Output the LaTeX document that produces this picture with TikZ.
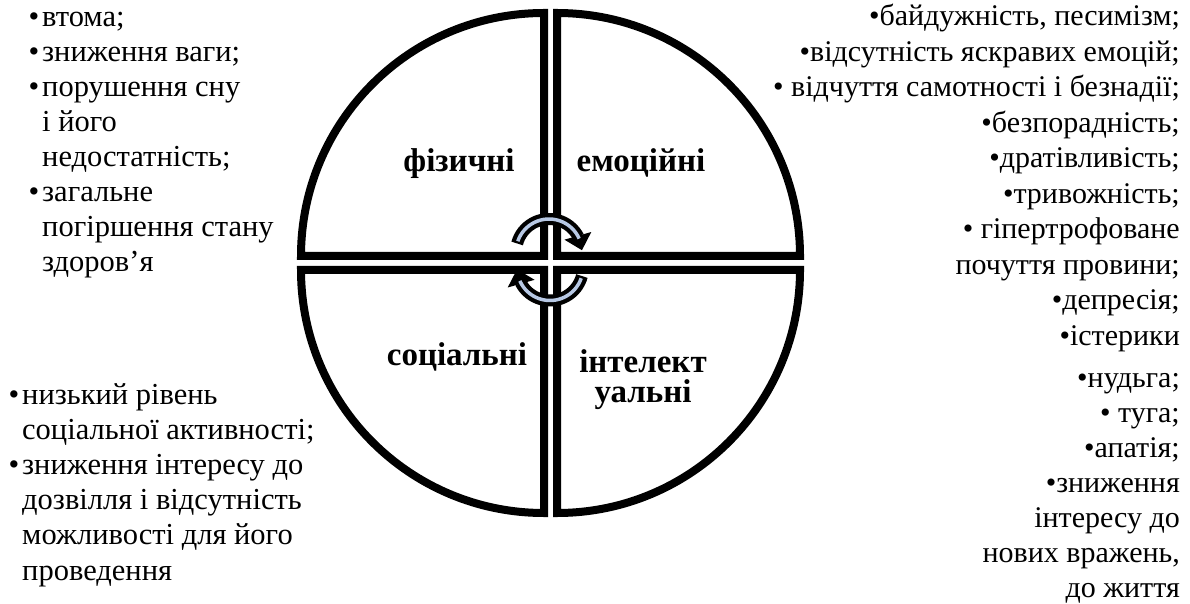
\documentclass[tikz,border=0pt]{standalone}
\usepackage{fontspec}
\setmainfont{Liberation Serif}
\usetikzlibrary{arrows.meta, bending}

\definecolor{ringblue}{RGB}{183,200,228}
\newcommand{\bul}{\llap{•\hspace{3pt}}}

\begin{document}
\begin{tikzpicture}[x=1pt, y=1pt,
    quarter/.style={draw, line width=8pt, fill=white, line join=miter},
    sector/.style={font=\fontsize{33}{30}\selectfont\bfseries, align=center, inner sep=0pt},
    symptoms/.style={font=\fontsize{30.5}{35.1}\selectfont, inner sep=0pt},
    turn/.style={line width=12pt, -{Triangle[length=15pt, width=27pt]}},
    turnfill/.style={ringblue, line width=3.5pt}]
  \useasboundingbox (0,0) rectangle (1190,603);

  % four quarters of the disc
  \coordinate (ctl) at (544,347);
  \coordinate (ctr) at (557,347);
  \coordinate (cbl) at (544,333);
  \coordinate (cbr) at (557,333);
  \draw[quarter] (ctl) -- ++(-243,0) arc[start angle=180, end angle=90, radius=243] -- cycle;
  \draw[quarter] (ctr) -- ++(0,243) arc[start angle=90, end angle=0, radius=243] -- cycle;
  \draw[quarter] (cbr) -- ++(243,0) arc[start angle=0, end angle=-90, radius=243] -- cycle;
  \draw[quarter] (cbl) -- ++(0,-243) arc[start angle=270, end angle=180, radius=243] -- cycle;

  \node[sector, anchor=base] (phys) at (459,431) {фізичні};
  \node[sector, anchor=base] (emot) at (641,431) {емоційні};
  \node[sector, anchor=base] (soc)  at (457,238) {соціальні};
  % base of a two-line node is its last line
  \node[sector, anchor=base] (intel) at (643,201) {інтелект\\уальні};

  % circular arrows in the middle
  \coordinate (upturn) at (549,351);
  \coordinate (downturn) at (550,335.5);
  \draw[turn] ([shift={(165:33)}]upturn) arc[start angle=165, end angle=3, radius=33];
  \draw[turnfill] ([shift={(161:33)}]upturn) arc[start angle=161, end angle=24, radius=33];
  \draw[turn] ([shift={(-15:33)}]downturn) arc[start angle=-15, end angle=-177, radius=33];
  \draw[turnfill] ([shift={(-19:33)}]downturn) arc[start angle=-19, end angle=-156, radius=33];

  % symptom lists (placed at the baseline of their last line)
  \node[symptoms, anchor=base west, align=left] (physlist) at (42,331)
    {\bul втома;\\ \bul зниження ваги;\\ \bul порушення сну\\ і його\\ недостатність;\\
     \bul загальне\\ погіршення стану\\ здоров’я};
  \node[symptoms, anchor=base west, align=left] (soclist) at (22,23)
    {\bul низький рівень\\ соціальної активності;\\ \bul зниження інтересу до\\
     дозвілля і відсутність\\ можливості для його\\ проведення};
  \node[symptoms, font=\fontsize{30}{35.5}\selectfont, anchor=base east, align=right] (emolist) at (1180,258)
    {•байдужність, песимізм;\\ •відсутність яскравих емоцій;\\ • відчуття самотності і безнадії;\\
     •безпорадність;\\ •дратівливість;\\ •тривожність;\\ • гіпертрофоване\\ почуття провини;\\
     •депресія;\\ •істерики};
  \node[symptoms, font=\fontsize{30}{35}\selectfont, anchor=base east, align=right] (intlist) at (1180,6)
    {•нудьга;\\ • туга;\\ •апатія;\\ •зниження\\ інтересу до\\ нових вражень,\\ до життя};
\end{tikzpicture}
\end{document}
